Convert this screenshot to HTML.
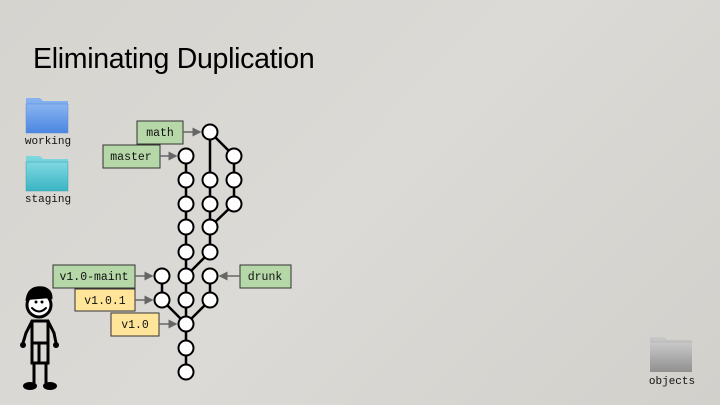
<!DOCTYPE html>
<html><head><style>
html,body{margin:0;padding:0}
body{width:720px;height:405px;overflow:hidden;position:relative;background:linear-gradient(135deg,#d6d4cf 0%,#dcdad6 50%,#d2d0cb 100%);font-family:"Liberation Sans",sans-serif}
.t{position:absolute;left:33px;top:43px;font-size:28.5px;color:#000;letter-spacing:-0.3px}
</style></head><body>
<div class="t">Eliminating Duplication</div>
<svg width="720" height="405" style="position:absolute;left:0;top:0" xmlns="http://www.w3.org/2000/svg">
<defs>
<linearGradient id="bf" x1="0" y1="0" x2="0" y2="1"><stop offset="0" stop-color="#8ab4f0"/><stop offset="1" stop-color="#4a86e0"/></linearGradient>
<linearGradient id="cf" x1="0" y1="0" x2="0" y2="1"><stop offset="0" stop-color="#7fd8e0"/><stop offset="1" stop-color="#3ab4c4"/></linearGradient>
<linearGradient id="gf" x1="0" y1="0" x2="0" y2="1"><stop offset="0" stop-color="#c8c8c8"/><stop offset="1" stop-color="#909090"/></linearGradient>
<marker id="ar" markerWidth="6" markerHeight="6" refX="5" refY="3" orient="auto"><path d="M0,0 L6,3 L0,6z" fill="#666"/></marker>
</defs>
<path d="M26,98 h14 l3,3 h25 v32 h-42z" fill="url(#bf)"/><rect x="26" y="104" width="42" height="29" fill="url(#bf)" stroke="#5a8ad8" stroke-width="0.5"/>
<path d="M26,156 h14 l3,3 h25 v32 h-42z" fill="url(#cf)"/><rect x="26" y="162" width="42" height="29" fill="url(#cf)" stroke="#3aa0b0" stroke-width="0.5"/>
<path d="M650,337 h14 l3,3 h25 v32 h-42z" fill="url(#gf)"/><rect x="650" y="343" width="42" height="29" fill="url(#gf)"/>
<g font-family="Liberation Mono,monospace" font-size="11" text-anchor="middle" fill="#111">
<text x="48" y="144">working</text><text x="48" y="202">staging</text><text x="672" y="384">objects</text>
</g>
<g stroke="#000" stroke-width="2.5" fill="none">
<line x1="186" y1="156" x2="186" y2="372"/>
<line x1="210" y1="132" x2="210" y2="252"/>
<line x1="210" y1="132" x2="234" y2="156"/>
<line x1="234" y1="156" x2="234" y2="204"/>
<line x1="234" y1="204" x2="210" y2="227"/>
<line x1="210" y1="252" x2="186" y2="276"/>
<line x1="210" y1="276" x2="210" y2="300"/>
<line x1="210" y1="300" x2="186" y2="324"/>
<line x1="162" y1="276" x2="162" y2="300"/>
<line x1="162" y1="300" x2="186" y2="324"/>
</g>
<g fill="#fff" stroke="#000" stroke-width="2">
<circle cx="210" cy="132" r="7.5"/>
<circle cx="186" cy="156" r="7.5"/><circle cx="186" cy="180" r="7.5"/><circle cx="186" cy="204" r="7.5"/><circle cx="186" cy="227" r="7.5"/><circle cx="186" cy="252" r="7.5"/><circle cx="186" cy="276" r="7.5"/><circle cx="186" cy="300" r="7.5"/><circle cx="186" cy="324" r="7.5"/><circle cx="186" cy="348" r="7.5"/><circle cx="186" cy="372" r="7.5"/>
<circle cx="210" cy="180" r="7.5"/><circle cx="210" cy="204" r="7.5"/><circle cx="210" cy="227" r="7.5"/><circle cx="210" cy="252" r="7.5"/><circle cx="210" cy="276" r="7.5"/><circle cx="210" cy="300" r="7.5"/>
<circle cx="234" cy="156" r="7.5"/><circle cx="234" cy="180" r="7.5"/><circle cx="234" cy="204" r="7.5"/>
<circle cx="162" cy="276" r="7.5"/><circle cx="162" cy="300" r="7.5"/>
</g>
<g stroke="#333" stroke-width="1">
<rect x="137" y="121" width="46" height="23" fill="#b6d7a8"/>
<rect x="103" y="145" width="57" height="23" fill="#b6d7a8"/>
<rect x="53" y="265" width="82" height="23" fill="#b6d7a8"/>
<rect x="75" y="289" width="60" height="22" fill="#ffe599"/>
<rect x="111" y="313" width="48" height="23" fill="#ffe599"/>
<rect x="240" y="265" width="51" height="23" fill="#b6d7a8"/>
</g>
<g stroke="#666" stroke-width="1.5" marker-end="url(#ar)">
<line x1="183" y1="132" x2="200" y2="132"/>
<line x1="160" y1="156" x2="176" y2="156"/>
<line x1="135" y1="276" x2="152" y2="276"/>
<line x1="135" y1="300" x2="152" y2="300"/>
<line x1="159" y1="324" x2="176" y2="324"/>
<line x1="240" y1="276" x2="220" y2="276"/>
</g>
<g font-family="Liberation Mono,monospace" font-size="11.5" text-anchor="middle" fill="#111">
<text x="160" y="136">math</text><text x="131" y="160">master</text><text x="94" y="280">v1.0-maint</text>
<text x="105" y="304">v1.0.1</text><text x="135" y="328">v1.0</text><text x="265" y="280">drunk</text>
</g>
<g stroke="#000" stroke-width="3" fill="none" stroke-linecap="round">
<circle cx="39" cy="305" r="12" fill="#fff"/>
<path d="M32,308 q7,7 14,0" stroke-width="2"/>
<path d="M27,300 q2,-14 16,-12 q8,2 8,10" fill="#000" stroke-width="3"/>
<path d="M32,321 h16 l6,12 M32,321 l-6,12 M32,321 v22 h16 v-22"/>
<path d="M26,333 l-3,10 M54,333 l2,10"/>
<path d="M32,343 v20 h7 v-20 M48,343 v20 h-7"/>
<path d="M34,363 v20 M46,363 v20"/>
</g>
<g fill="#000"><circle cx="23" cy="345" r="3"/><circle cx="56" cy="345" r="3"/><ellipse cx="30" cy="386" rx="7" ry="4"/><ellipse cx="50" cy="386" rx="7" ry="4"/><circle cx="36" cy="302" r="1.5"/><circle cx="42" cy="302" r="1.5"/></g>
</svg>
</body></html>
